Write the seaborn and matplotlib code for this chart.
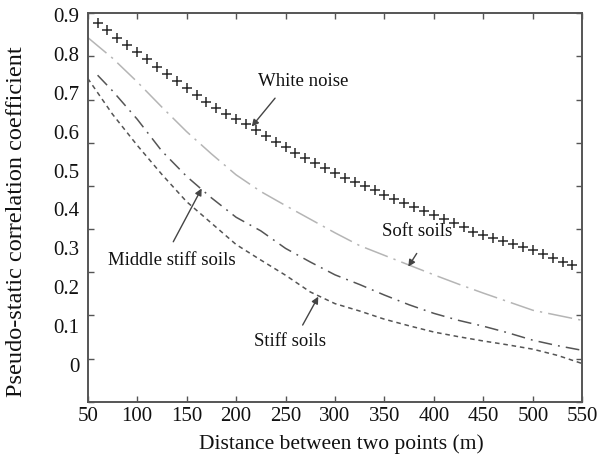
import numpy as np
import pandas as pd
import matplotlib
matplotlib.use("Agg")
import matplotlib.pyplot as plt
import seaborn as sns

# ---------------- data ----------------
wn_x = list(range(60, 541, 10))
wn_y = [0.879, 0.860, 0.841, 0.823, 0.804, 0.786, 0.767, 0.749, 0.730, 0.711,
        0.694, 0.677, 0.660, 0.646, 0.633, 0.620, 0.604, 0.589, 0.574, 0.560,
        0.546, 0.532, 0.519, 0.506, 0.493, 0.482, 0.471, 0.460, 0.449, 0.438,
        0.428, 0.417, 0.406, 0.396, 0.385, 0.375, 0.364, 0.354, 0.343, 0.335,
        0.327, 0.319, 0.311, 0.303, 0.296, 0.286, 0.276, 0.266, 0.257]

soft_x = [50, 75, 100, 125, 150, 175, 200, 225, 250, 275, 300, 325, 350, 375,
          400, 425, 450, 475, 500, 525, 550]
soft_y = [0.842, 0.789, 0.728, 0.663, 0.600, 0.543, 0.489, 0.446, 0.410, 0.375,
          0.340, 0.307, 0.282, 0.257, 0.232, 0.208, 0.185, 0.163, 0.141, 0.128, 0.115]

mid_x = [60, 75, 100, 125, 150, 175, 200, 225, 250, 275, 300, 325, 350, 375,
         400, 425, 450, 475, 500, 525, 550]
mid_y = [0.745, 0.705, 0.632, 0.550, 0.485, 0.430, 0.380, 0.345, 0.300, 0.265,
         0.232, 0.207, 0.180, 0.155, 0.133, 0.115, 0.100, 0.083, 0.064, 0.050, 0.038]

stiff_x = [50, 75, 100, 125, 150, 175, 200, 225, 250, 275, 300, 325, 350, 375,
           400, 425, 450, 475, 500, 525, 550]
stiff_y = [0.737, 0.645, 0.565, 0.490, 0.420, 0.365, 0.310, 0.270, 0.231, 0.188,
           0.158, 0.139, 0.118, 0.101, 0.085, 0.073, 0.062, 0.052, 0.041, 0.025, 0.004]

x_ticks = [50, 100, 150, 200, 250, 300, 350, 400, 450, 500, 550]
y_ticks = [0, 0.1, 0.2, 0.3, 0.4, 0.5, 0.6, 0.7, 0.8, 0.9]
y_labels = ["0", "0.1", "0.2", "0.3", "0.4", "0.5", "0.6", "0.7", "0.8", "0.9"]

# ---------------- style ----------------
sns.set_style("ticks")
plt.rcParams["font.family"] = ["Liberation Serif", "DejaVu Serif"]
plt.rcParams["axes.edgecolor"] = "#555555"

fig = plt.figure(figsize=(5.97, 4.61), dpi=100)
ax = fig.add_axes([0.1469, 0.1286, 0.8285, 0.8425])

wn = pd.DataFrame({"x": wn_x, "y": wn_y})
soft = pd.DataFrame({"x": soft_x, "y": soft_y})
mid = pd.DataFrame({"x": mid_x, "y": mid_y})
stiff = pd.DataFrame({"x": stiff_x, "y": stiff_y})

sns.scatterplot(data=wn, x="x", y="y", ax=ax, marker="+", s=60,
                linewidth=1.1, color="#2a2a2a", zorder=3)
sns.lineplot(data=soft, x="x", y="y", ax=ax, color="#b5b5b5", linewidth=1.1,
             linestyle=(0, (16, 4, 1.5, 4)))
sns.lineplot(data=mid, x="x", y="y", ax=ax, color="#555555", linewidth=1.1,
             linestyle=(0, (9, 4, 1.2, 4)))
sns.lineplot(data=stiff, x="x", y="y", ax=ax, color="#555555", linewidth=1.1,
             linestyle=(0, (3, 2.5)))

ylo, yhi = -0.094, 0.904
ax.set_xlim(50, 550)
ax.set_ylim(ylo, yhi)

ax.set_xticks(x_ticks)
ax.set_xticklabels([str(v) for v in x_ticks])
ax.set_yticks(y_ticks)
ax.set_yticklabels(y_labels)
ax.set_yticks(np.linspace(ylo, yhi, 10), minor=True)

ax.tick_params(axis="x", which="major", direction="in", length=4, width=1,
               color="#555555", top=True, bottom=True, labelsize=15, pad=4,
               labelcolor="#111111")
ax.tick_params(axis="y", which="major", length=0, labelsize=15, pad=6,
               labelcolor="#111111")
ax.tick_params(axis="y", which="minor", direction="in", length=4, width=1,
               color="#555555", left=True, right=True)

for s in ax.spines.values():
    s.set_linewidth(1.4)
    s.set_color("#555555")

ax.set_xlabel("Distance between two points (m)", fontsize=15.5, color="#111111")
ax.set_ylabel("Pseudo-static correlation coefficient", fontsize=17.5,
              color="#111111", va="center")
ax.xaxis.set_label_coords(0.512, -0.083)
ax.yaxis.set_label_coords(-0.143, 0.463)

# ---------------- annotations ----------------
arrow = dict(arrowstyle="-|>", color="#444444", lw=1.0, shrinkA=0, shrinkB=0,
             mutation_scale=10)
txt = dict(fontsize=13.5, ha="center", va="center", color="#111111")

ax.text(268, 0.728, "White noise", **txt)
ax.annotate("", xy=(215.8, 0.613), xytext=(239.4, 0.686), arrowprops=arrow)

ax.text(382.6, 0.343, "Soft soils", **txt)
ax.annotate("", xy=(374.1, 0.253), xytext=(382.6, 0.287), arrowprops=arrow)

ax.text(134.9, 0.270, "Middle stiff soils", **txt)
ax.annotate("", xy=(165.2, 0.454), xytext=(136.5, 0.317), arrowprops=arrow)

ax.text(254.5, 0.060, "Stiff soils", **txt)
ax.annotate("", xy=(283.1, 0.176), xytext=(267.3, 0.103), arrowprops=arrow)

fig.savefig("out.png", dpi=100)
